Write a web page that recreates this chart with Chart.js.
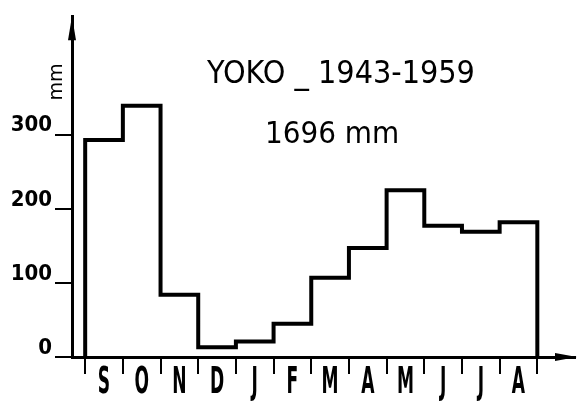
<!DOCTYPE html>
<html>
<head>
<meta charset="utf-8">
<script src="https://cdn.jsdelivr.net/npm/chart.js@4.4.0/dist/chart.umd.min.js"></script>
<style>
html, body { margin: 0; padding: 0; background: #fff; }
</style>
</head>
<body>
<canvas id="chart" width="577" height="401"></canvas>
<script>
// Monthly rainfall at Yoko, 1943-1959, hydrological year Sept -> Aug
var months = ["S", "O", "N", "D", "J", "F", "M", "A", "M", "J", "J", "A"]
var rainfall = [293, 339, 84, 13, 21, 45, 107, 147, 225, 177, 169, 182]
var yTicks = [0, 100, 200, 300]
var title = "YOKO _ 1943-1959"
var total = "1696 mm"
var unit = "mm"

// histogram outline: one step per month, closed down to zero at both ends
var steps = [{x: 0, y: 0}]
rainfall.forEach(function(v, i){ steps.push({x: i, y: v}) })
steps.push({x: months.length, y: rainfall[rainfall.length - 1]})
steps.push({x: months.length, y: 0})

// tick marks on the month boundaries
var xTicks = []
for (var t = 0; t <= months.length; t++) xTicks.push(t)

var FAMILY = "'DejaVu Sans', 'Liberation Sans', sans-serif"

var extras = {
    id: "extras",
    afterDraw: function(chart){
        var ctx = chart.ctx
        var a = chart.chartArea
        var xs = chart.scales.x
        ctx.save()
        ctx.fillStyle = "#000"

        // arrow heads on both axes
        ctx.beginPath()
        ctx.moveTo(a.left, a.top)
        ctx.lineTo(a.left - 4, a.top + 24)
        ctx.lineTo(a.left + 4, a.top + 24)
        ctx.closePath()
        ctx.fill()
        ctx.beginPath()
        ctx.moveTo(chart.width, a.bottom)
        ctx.lineTo(chart.width - 22, a.bottom - 4)
        ctx.lineTo(chart.width - 22, a.bottom + 4)
        ctx.closePath()
        ctx.fill()

        // titles
        ctx.textAlign = "center"
        ctx.textBaseline = "middle"
        ctx.font = "condensed 32px " + FAMILY
        ctx.fillText(title, 341, 75)
        ctx.font = "condensed 31px " + FAMILY
        ctx.fillText(total, 332, 135)

        // month letters, tall and narrow, centred in each month
        ctx.save()
        ctx.font = "bold condensed 38px " + FAMILY
        ctx.scale(0.5, 1)
        months.forEach(function(m, i){
            ctx.fillText(m, xs.getPixelForValue(i + 0.5) / 0.5, a.bottom + 26)
        })
        ctx.restore()

        // unit, written up the y axis
        ctx.translate(57, 82)
        ctx.rotate(-Math.PI / 2)
        ctx.font = "19px " + FAMILY
        ctx.fillText(unit, 0, 0)
        ctx.restore()
    }
}

new Chart(document.getElementById("chart"), {
    type: "line",
    data: {
        datasets: [{
            data: steps,
            stepped: true,
            borderColor: "#000",
            borderWidth: 4,
            pointRadius: 0,
            fill: false
        }]
    },
    options: {
        responsive: false,
        animation: false,
        layout: {padding: {top: 13, right: 2, left: 0, bottom: 0}},
        plugins: {
            legend: {display: false},
            tooltip: {enabled: false}
        },
        scales: {
            x: {
                type: "linear",
                min: -0.35,
                max: 13,
                afterBuildTicks: function(scale){
                    scale.ticks = xTicks.map(function(v){ return {value: v} })
                },
                afterFit: function(scale){ scale.height = 44 },
                border: {display: true, color: "#000", width: 3},
                grid: {drawOnChartArea: false, tickLength: 17, lineWidth: 2, color: "#000"},
                ticks: {
                    autoSkip: false,
                    maxRotation: 0,
                    callback: function(){ return "" }
                }
            },
            y: {
                min: 0,
                max: 460,
                afterBuildTicks: function(scale){
                    scale.ticks = yTicks.map(function(v){ return {value: v} })
                },
                afterFit: function(scale){ scale.width = 72 },
                border: {display: true, color: "#000", width: 3},
                grid: {drawOnChartArea: false, tickLength: 17, lineWidth: 2, color: "#000"},
                ticks: {
                    padding: 3,
                    labelOffset: -9,
                    color: "#000",
                    font: {family: FAMILY, size: 22, weight: "bold condensed"}
                }
            }
        }
    },
    plugins: [extras]
})
</script>
</body>
</html>
